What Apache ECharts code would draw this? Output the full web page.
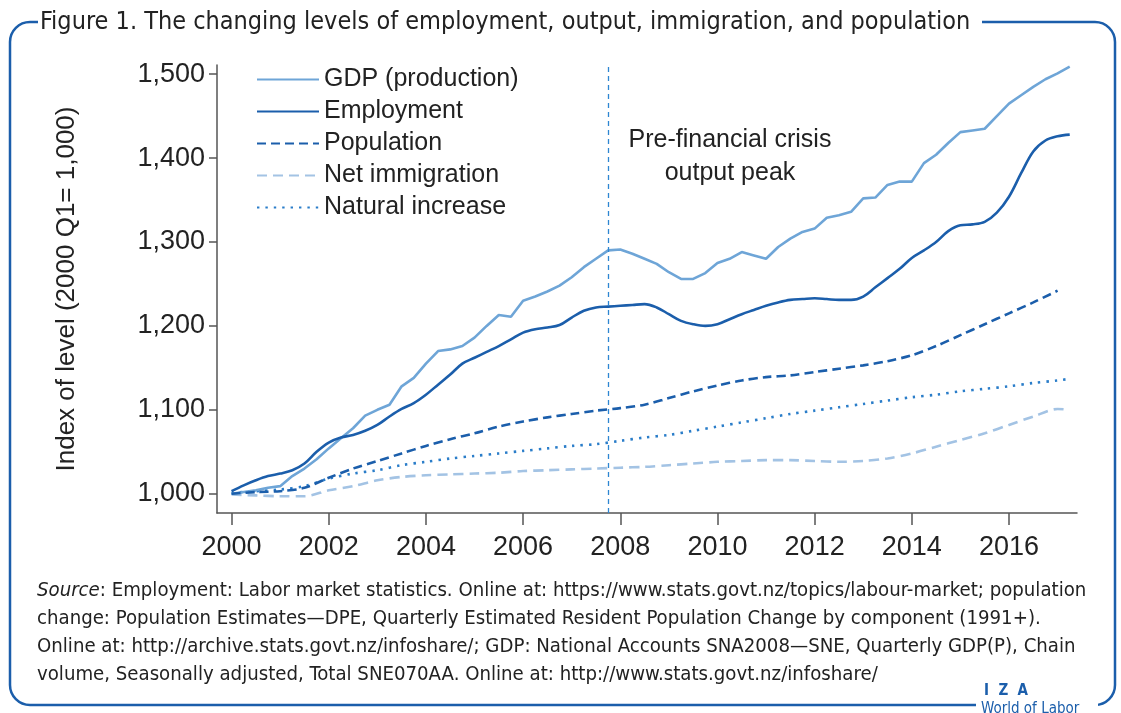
<!DOCTYPE html>
<html>
<head>
<meta charset="utf-8">
<script src="https://cdn.jsdelivr.net/npm/echarts@6/dist/echarts.min.js"></script>
<style>
html,body{margin:0;padding:0;background:#fff;}
#chart{width:1121px;height:713px;}
</style>
</head>
<body>
<div id="chart"></div>
<script>
// ---- Data (index, 2000 Q1 = 1,000) ----
const quarterStart = 2000;
const gdp = [1000,1002,1004,1007,1009,1021,1030,1041,1054,1066,1078,1093,1100,1106,1128,1138,
  1155,1170,1172,1176,1186,1200,1213,1211,1230,1235,1241,1248,1258,1270,1280,1290,
  1291,1286,1280,1274,1264,1256,1256,1263,1275,1280,1288,1284,1280,1294,1304,1312,
  1316,1329,1332,1336,1352,1353,1368,1372,1372,1394,1404,1418,1431,1433,1435,1450,
  1465,1475,1485,1494,1501,1509];
const employment = [1003,1010,1016,1021,1024,1028,1036,1050,1061,1067,1070,1075,1082,1092,1101,1108,
  1118,1130,1142,1155,1162,1169,1176,1184,1192,1196,1198,1201,1210,1218,1222,1223,
  1224,1225,1226,1222,1214,1206,1202,1200,1202,1208,1214,1219,1224,1228,1231,1232,
  1233,1232,1231,1231,1235,1246,1257,1268,1281,1290,1300,1313,1320,1321,1324,1335,
  1354,1382,1408,1421,1426,1428];
const halfYears = [2000,2000.5,2001,2001.5,2002,2002.5,2003,2003.5,2004,2004.5,2005,2005.5,2006,2006.5,
  2007,2007.5,2008,2008.5,2009,2009.5,2010,2010.5,2011,2011.5,2012,2012.5,2013,2013.5,
  2014,2014.5,2015,2015.5,2016,2016.5,2017,2017.25];
const population = [1000,1002,1003,1007,1019,1030,1039,1048,1057,1065,1072,1080,1086,1091,
  1095,1099,1102,1106,1114,1122,1129,1135,1139,1141,1145,1149,1153,1158,
  1165,1176,1189,1202,1215,1228,1242,null];
const netImmigration = [999,998,997,997,1004,1009,1016,1020,1022,1023,1024,1025,1027,1028,
  1029,1030,1031,1032,1034,1036,1038,1039,1040,1040,1039,1038,1039,1042,
  1048,1056,1064,1072,1082,1092,1101,1100];
const naturalIncrease = [1001,1003,1005,1009,1018,1024,1028,1034,1038,1042,1045,1048,1051,1054,
  1057,1059,1063,1067,1070,1075,1080,1085,1090,1095,1099,1103,1107,1111,
  1115,1118,1122,1125,1128,1132,1135,1137];
const crisisPeak = 2007.75;
const xTicks = [2000,2002,2004,2006,2008,2010,2012,2014,2016];
const yTicks = [1000,1100,1200,1300,1400,1500];
const seriesNames = ['GDP (production)','Employment','Population','Net immigration','Natural increase'];

// ---- Build ----
const quarterly = arr => arr.map((v,i)=>[quarterStart + i*0.25, v]);
const halfYearly = arr => arr.map((v,i)=>[halfYears[i], v]);

const C_GDP = '#6ea5d7', C_EMP = '#1b5eab', C_POP = '#1b5eab', C_NET = '#a3c3e4', C_NAT = '#2a7dc9';
const AXIS = '#555555';
const FONT = "'Liberation Sans', Arial, sans-serif";
const NARROW = "'Liberation Sans Narrow', 'DejaVu Sans Condensed', sans-serif";

const chart = echarts.init(document.getElementById('chart'), null, {renderer:'canvas'});

const srcLines = [
  '{i|Source}: Employment: Labor market statistics. Online at: https://www.stats.govt.nz/topics/labour-market; population',
  'change: Population Estimates\u2014DPE, Quarterly Estimated Resident Population Change by component (1991+).',
  'Online at: http://archive.stats.govt.nz/infoshare/; GDP: National Accounts SNA2008\u2014SNE, Quarterly GDP(P), Chain',
  'volume, Seasonally adjusted, Total SNE070AA. Online at: http://www.stats.govt.nz/infoshare/'
];

const option = {
  animation: false,
  backgroundColor: '#ffffff',
  grid: {left: 217, right: 44, top: 65, bottom: 200, containLabel: false},
  legend: {
    orient: 'vertical', left: 251, top: 62, itemWidth: 62, itemHeight: 14, itemGap: 7,
    itemStyle: {opacity: 0},
    textStyle: {fontFamily: FONT, fontSize: 25, color: '#222', lineHeight: 25},
    data: seriesNames
  },
  xAxis: {
    type: 'value', min: 1999.7, max: 2017.4,
    splitLine: {show: false},
    axisLine: {show: true, lineStyle: {color: AXIS, width: 1.5}},
    axisTick: {show: true, length: 12, lineStyle: {color: AXIS, width: 1.5}, customValues: xTicks},
    axisLabel: {customValues: xTicks, formatter: v => String(v), fontFamily: FONT, fontSize: 27, color: '#222', margin: 21}
  },
  yAxis: {
    type: 'value', min: 977, max: 1511,
    name: 'Index of level (2000 Q1= 1,000)', nameLocation: 'middle', nameGap: 137, nameRotate: 90,
    nameTextStyle: {fontFamily: FONT, fontSize: 26, color: '#222'},
    splitLine: {show: false},
    axisLine: {show: true, lineStyle: {color: AXIS, width: 1.5}},
    axisTick: {show: true, length: 8, lineStyle: {color: AXIS, width: 1.5}, customValues: yTicks},
    axisLabel: {customValues: yTicks, formatter: v => v.toLocaleString('en-US'), fontFamily: FONT, fontSize: 27, color: '#222', margin: 12}
  },
  series: [
    {name: seriesNames[0], type: 'line', data: quarterly(gdp), symbol: 'none', color: C_GDP,
     lineStyle: {color: C_GDP, width: 2.6}, z: 3,
     markLine: {silent: true, symbol: ['none','none'], label: {show: false},
       lineStyle: {color: '#2d86d2', type: [5,4], width: 1.3},
       data: [{xAxis: crisisPeak}]}},
    {name: seriesNames[1], type: 'line', data: quarterly(employment), symbol: 'none', smooth: 0.35, color: C_EMP,
     lineStyle: {color: C_EMP, width: 2.6}, z: 4},
    {name: seriesNames[2], type: 'line', data: halfYearly(population), symbol: 'none', smooth: 0.3, color: C_POP,
     lineStyle: {color: C_POP, width: 2.6, type: [9,5]}, z: 3},
    {name: seriesNames[3], type: 'line', data: halfYearly(netImmigration), symbol: 'none', smooth: 0.3, color: C_NET,
     lineStyle: {color: C_NET, width: 2.6, type: [10,6]}, z: 2},
    {name: seriesNames[4], type: 'line', data: halfYearly(naturalIncrease), symbol: 'none', smooth: 0.3, color: C_NAT,
     lineStyle: {color: C_NAT, width: 2.6, type: [2.4,6], cap: 'butt'}, z: 2}
  ],
  graphic: [
    // rounded frame
    {type: 'rect', silent: true, z: 0, shape: {x: 10, y: 22, width: 1105, height: 683, r: 20},
     style: {fill: 'none', stroke: '#1b5eab', lineWidth: 2.5}},
    // title gap
    {type: 'rect', silent: true, z: 1, shape: {x: 38, y: 8, width: 944, height: 28}, style: {fill: '#fff'}},
    {type: 'text', silent: true, z: 2, left: 40, top: 10,
     style: {text: 'Figure 1. The changing levels of employment, output, immigration, and population',
       fontFamily: NARROW, fontSize: 25, fill: '#222'}},
    // annotation
    {type: 'text', silent: true, z: 5, x: 730, y: 124,
     style: {text: 'Pre-financial crisis\noutput peak', align: 'center', verticalAlign: 'top',
       fontFamily: FONT, fontSize: 25, lineHeight: 33, fill: '#222'}},
    // source
    {type: 'group', silent: true, left: 37, top: 581, children: srcLines.map((t,i)=>({
      type: 'text', x: 0, y: i*28,
      style: {text: t, rich: {i: {fontStyle: 'italic', fontFamily: NARROW, fontSize: 20.2, fill: '#222'}},
        fontFamily: NARROW, fontSize: 20.2, fill: '#222'}}))},
    // IZA logo gap and text
    {type: 'rect', silent: true, z: 1, shape: {x: 976, y: 690, width: 122, height: 23}, style: {fill: '#fff'}},
    {type: 'text', silent: true, z: 2, x: 984, y: 684,
     style: {text: 'I  Z  A', fontFamily: NARROW, fontSize: 15, fontWeight: 'bold', fill: '#1b5eab'}},
    {type: 'text', silent: true, z: 2, x: 981, y: 702,
     style: {text: 'World of Labor', fontFamily: NARROW, fontSize: 15, fill: '#1b5eab'}}
  ]
};
chart.setOption(option);
</script>
</body>
</html>
